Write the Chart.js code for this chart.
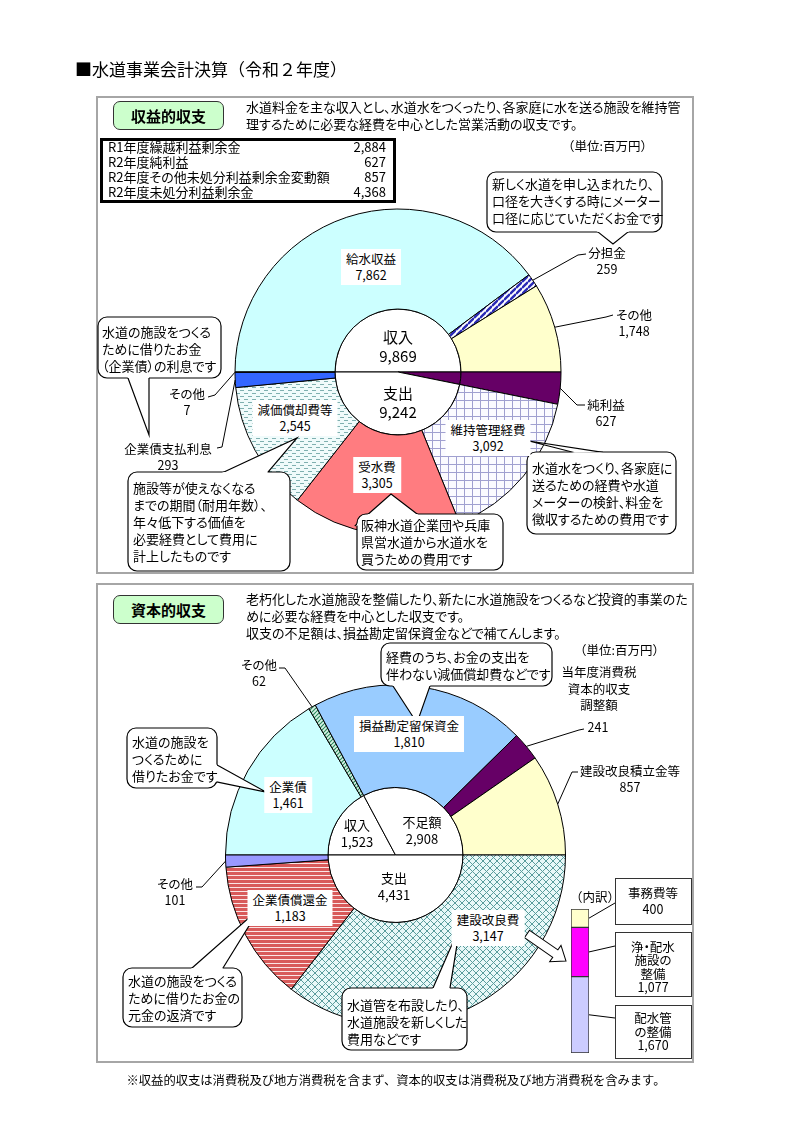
<!DOCTYPE html>
<html lang="ja">
<head>
<meta charset="utf-8">
<title>水道事業会計決算（令和２年度）</title>
<script src="https://cdn.jsdelivr.net/npm/chart.js@4.4.1/dist/chart.umd.min.js"></script>
<style>
  html, body { margin: 0; padding: 0; background: #fff; }
  body { font-family: "Noto Sans CJK JP", "Noto Sans", sans-serif; color: #000; }
  #page { position: relative; width: 793px; height: 1122px; overflow: hidden; }
  .layer { position: absolute; left: 0; top: 0; width: 793px; height: 1122px; }
  .panel { position: absolute; border: 2px solid #a6a6a6; box-sizing: border-box; }
  .tag { position: absolute; background: #ccffcc; border: 1.5px solid #333; border-radius: 7px; box-sizing: border-box;
         font-weight: bold; font-size: 15px; display: flex; align-items: center; justify-content: center; }
  .txt { position: absolute; white-space: nowrap; font-size: 13px; line-height: 17px; font-feature-settings: "palt"; }
  .lbl { position: absolute; transform: translate(-50%, -50%); text-align: center; white-space: nowrap;
         font-size: 12.5px; line-height: 16px; font-feature-settings: "palt"; }
  .lbl.box { background: #fff; padding: 2px 5px; }
  .sbox { position: absolute; border: 1.5px solid #333; box-sizing: border-box; background: #fff; }
  .full { font-feature-settings: normal; }
  #texts { z-index: 5; }
</style>
</head>
<body>
<div id="page">
  <div class="panel" style="left:96px;top:96px;width:598px;height:478px;"></div>
  <div class="panel" style="left:96px;top:583px;width:598px;height:480px;"></div>
  <div class="layer"><canvas id="topChart"></canvas></div>
  <div class="layer"><canvas id="capChart"></canvas></div>
  <div style="position:absolute;left:560px;top:900px;width:60px;height:160px;"><canvas id="barChart"></canvas></div>
  <div class="layer" id="texts"></div>
</div>
<script>
// ---- 収益的収支 ----
const incomeLabels = ['給水収益', '分担金', 'その他'];
const incomeValues = [7862, 259, 1748];
const expenseLabels = ['純利益', '維持管理経費', '受水費', '減価償却費等', '企業債支払利息', 'その他'];
const expenseValues = [627, 3092, 3305, 2545, 293, 7];
const centerLabels = ['収入', '純利益', '支出'];
const centerValues = [9869, 627, 9242];

const summaryItems = ['R1年度繰越利益剰余金', 'R2年度純利益', 'R2年度その他未処分利益剰余金変動額', 'R2年度未処分利益剰余金'];
const summaryValues = [2884, 627, 857, 4368];

// ---- 資本的収支 ----
const capInLabels = ['企業債', 'その他', '損益勘定留保資金', '当年度消費税資本的収支調整額', '建設改良積立金等'];
const capInValues = [1461, 62, 1810, 241, 857];
const capOutLabels = ['建設改良費', '企業債償還金', 'その他'];
const capOutValues = [3147, 1183, 101];
const capCenterLabels = ['収入', '不足額', '支出'];
const capCenterValues = [1523, 2908, 4431];

// 建設改良費の内訳 (下から積み上げ)
const breakdownLabels = ['配水管の整備', '浄・配水施設の整備', '事務費等'];
const breakdownValues = [1670, 1077, 400];

const W = 793, H = 1122;
const fmt = v => v.toLocaleString('en-US');

// 塗りつぶしパターン
function pattern(w, h, bg, paint) {
  const c = document.createElement('canvas');
  c.width = w; c.height = h;
  const g = c.getContext('2d');
  g.fillStyle = bg; g.fillRect(0, 0, w, h);
  paint(g);
  return g.createPattern(c, 'repeat');
}
function diag(g, s, dir) {
  for (let k = -1; k <= 1; k++) {
    g.beginPath();
    if (dir > 0) { g.moveTo(0, k * s); g.lineTo(s, s + k * s); }
    else { g.moveTo(0, s + k * s); g.lineTo(s, k * s); }
    g.stroke();
  }
}
const stripeBlue = pattern(6, 6, '#fff', g => { g.strokeStyle = '#2a2ab5'; g.lineWidth = 2.4; diag(g, 6, -1); });
const gridBlue = pattern(8, 8, '#fbfbff', g => { g.fillStyle = '#a0a0d0'; g.fillRect(0, 0, 8, 1); g.fillRect(0, 0, 1, 8); });
const dashTeal = pattern(8, 6, '#f0fbfb', g => { g.fillStyle = '#7fb0b0'; g.fillRect(0, 0, 4, 1); g.fillRect(4, 3, 4, 1); });
const crossTeal = pattern(7, 7, '#e8f8f8', g => { g.strokeStyle = '#5a9c9c'; g.lineWidth = 1; diag(g, 7, 1); diag(g, 7, -1); });
const stripeRed = pattern(4, 4, '#fbe4e4', g => { g.fillStyle = '#d85a5a'; g.fillRect(0, 0, 4, 3); });
const stripeGreen = pattern(4, 4, '#d8f3e6', g => { g.strokeStyle = '#2f8a5f'; g.lineWidth = 1.2; diag(g, 4, -1); });

// 吹き出し
function drawCallout(ctx, c) {
  const [x1, y1, x2, y2] = c.rect;
  const r = 9;
  const [b1, b2, tip] = c.tail;
  const push = b => {
    const dx = b[0] - tip[0], dy = b[1] - tip[1], d = Math.hypot(dx, dy);
    return [b[0] + dx / d * 3, b[1] + dy / d * 3];
  };
  const p1 = push(b1), p2 = push(b2);
  const tri = () => { ctx.moveTo(p1[0], p1[1]); ctx.lineTo(tip[0], tip[1]); ctx.lineTo(p2[0], p2[1]); ctx.closePath(); };
  const box = () => { ctx.roundRect(x1, y1, x2 - x1, y2 - y1, r); };
  ctx.save();
  ctx.fillStyle = '#fff';
  ctx.beginPath(); box(); ctx.fill();
  ctx.beginPath(); tri(); ctx.fill();
  ctx.strokeStyle = '#000'; ctx.lineWidth = 1.2;
  ctx.save();
  ctx.beginPath(); ctx.rect(0, 0, W, H); tri(); ctx.clip('evenodd');
  ctx.beginPath(); box(); ctx.stroke();
  ctx.restore();
  ctx.save();
  ctx.beginPath(); ctx.rect(0, 0, W, H); box(); ctx.clip('evenodd');
  ctx.beginPath(); ctx.moveTo(p1[0], p1[1]); ctx.lineTo(tip[0], tip[1]); ctx.lineTo(p2[0], p2[1]); ctx.stroke();
  ctx.restore();
  ctx.restore();
}

function annotPlugin(cfg) {
  return {
    id: 'annot',
    afterDatasetsDraw(chart) {
      const ctx = chart.ctx;
      ctx.save();
      ctx.strokeStyle = '#000';
      ctx.lineWidth = 1;
      cfg.leaders.forEach(l => {
        const arc = chart.getDatasetMeta(l.ds).data[l.i];
        const p = arc.getProps(['x', 'y', 'startAngle', 'endAngle', 'outerRadius'], true);
        const a = p.startAngle + (p.endAngle - p.startAngle) * (l.frac === undefined ? 0.5 : l.frac);
        ctx.beginPath();
        ctx.moveTo(l.pts[0][0], l.pts[0][1]);
        l.pts.slice(1).forEach(q => ctx.lineTo(q[0], q[1]));
        ctx.lineTo(p.x + p.outerRadius * Math.cos(a), p.y + p.outerRadius * Math.sin(a));
        ctx.stroke();
      });
      cfg.callouts.forEach(c => drawCallout(ctx, c));
      if (cfg.extra) cfg.extra(ctx);
      ctx.restore();
    }
  };
}

function ringChart(id, cx, cy, rOut, rIn, outerData, outerColors, innerData, innerColors, cfg) {
  return new Chart(document.getElementById(id), {
    type: 'doughnut',
    data: {
      datasets: [
        { data: outerData, backgroundColor: outerColors, borderColor: '#000', borderWidth: 1, weight: rOut - rIn, clip: false },
        { data: innerData, backgroundColor: innerColors, borderColor: '#000', borderWidth: 1, weight: rIn, clip: false }
      ]
    },
    options: {
      responsive: true,
      maintainAspectRatio: false,
      animation: false,
      events: [],
      rotation: -90,
      circumference: 360,
      cutout: 0,
      radius: rOut,
      layout: { padding: { left: cx - rOut - 1, right: W - cx - rOut - 1, top: cy - rOut - 1, bottom: H - cy - rOut - 1 } },
      plugins: { legend: { display: false }, tooltip: { enabled: false } }
    },
    plugins: [annotPlugin(cfg)]
  });
}

// 収益的収支
ringChart('topChart', 398, 372, 163, 63,
  incomeValues.concat(expenseValues),
  ['#ccffff', stripeBlue, '#ffffcc', '#660066', gridBlue, '#ff7c80', dashTeal, '#3366ff', '#ccccff'],
  centerValues, ['#fff', '#660066', '#fff'],
  {
    leaders: [
      { ds: 0, i: 1, pts: [[586, 254], [578, 255]] },
      { ds: 0, i: 2, pts: [[613, 315], [606, 317]] },
      { ds: 0, i: 3, pts: [[585, 405], [577, 405]] },
      { ds: 0, i: 8, pts: [[208, 397], [215, 395]] },
      { ds: 0, i: 7, pts: [[217, 448], [222, 447]] }
    ],
    callouts: [
      { rect: [487, 172, 662, 232], tail: [[598, 232], [628, 232], [613, 244]] },
      { rect: [98, 317, 221, 378], tail: [[128, 378], [149, 378], [149, 435]] },
      { rect: [527, 452, 676, 534], tail: [[572, 452], [600, 452], [529, 441]] },
      { rect: [357, 514, 503, 570], tail: [[357, 524], [417, 514], [391, 494]] },
      { rect: [128, 472, 290, 571], tail: [[224, 472], [268, 472], [297, 438]] }
    ]
  });

// 資本的収支
ringChart('capChart', 395.5, 855, 170, 67.5,
  capInValues.concat(capOutValues),
  ['#ccffff', stripeGreen, '#99ccff', '#660066', '#ffffcc', crossTeal, stripeRed, '#9999ff'],
  capCenterValues, ['#fff', '#fff', '#fff'],
  {
    leaders: [
      { ds: 0, i: 1, pts: [[279, 668], [285, 668]] },
      { ds: 0, i: 3, pts: [[584, 729], [579, 730]] },
      { ds: 0, i: 4, pts: [[578, 772], [572, 772]] },
      { ds: 0, i: 7, pts: [[196, 887], [202, 887]] }
    ],
    callouts: [
      { rect: [381, 643, 552, 686], tail: [[393, 686], [430, 686], [417, 723]] },
      { rect: [127, 728, 217, 788], tail: [[217, 765], [217, 782], [266, 792]] },
      { rect: [123, 968, 242, 1027], tail: [[192, 968], [223, 968], [260, 908]] },
      { rect: [342, 988, 467, 1050], tail: [[433, 988], [450, 988], [460, 926]] }
    ],
    extra(ctx) {
      // 内訳への矢印
      const x0 = 527, y0 = 934, x1 = 566, y1 = 961;
      const ang = Math.atan2(y1 - y0, x1 - x0), len = Math.hypot(x1 - x0, y1 - y0);
      ctx.save();
      ctx.translate(x0, y0); ctx.rotate(ang);
      ctx.beginPath();
      ctx.moveTo(0, -4.5); ctx.lineTo(len - 13, -4.5); ctx.lineTo(len - 13, -10);
      ctx.lineTo(len, 0); ctx.lineTo(len - 13, 10); ctx.lineTo(len - 13, 4.5); ctx.lineTo(0, 4.5); ctx.closePath();
      ctx.fillStyle = '#fff'; ctx.fill();
      ctx.strokeStyle = '#000'; ctx.lineWidth = 1; ctx.stroke();
      ctx.restore();
    }
  });

// 建設改良費の内訳（積み上げ棒）
const breakdownColors = ['#ccccff', '#ff00ff', '#ffffcc'];
const boxLeaderY = [1018, 946, 903];
new Chart(document.getElementById('barChart'), {
  type: 'bar',
  data: {
    labels: ['建設改良費'],
    datasets: breakdownValues.map((v, i) => ({
      label: breakdownLabels[i], data: [v], backgroundColor: breakdownColors[i],
      borderColor: '#333', borderWidth: 1, borderSkipped: false,
      barPercentage: 1, categoryPercentage: 1
    }))
  },
  options: {
    responsive: true, maintainAspectRatio: false, animation: false, events: [],
    layout: { padding: { left: 11, right: 31, top: 9, bottom: 7 } },
    scales: {
      x: { stacked: true, display: false },
      y: { stacked: true, display: false, min: 0, max: breakdownValues.reduce((a, b) => a + b, 0) }
    },
    plugins: { legend: { display: false }, tooltip: { enabled: false } }
  },
  plugins: [{
    id: 'boxLeaders',
    afterDatasetsDraw(chart) {
      const ctx = chart.ctx;
      ctx.save();
      ctx.strokeStyle = '#000'; ctx.lineWidth = 1;
      breakdownValues.forEach((v, i) => {
        const bar = chart.getDatasetMeta(i).data[0];
        const p = bar.getProps(['x', 'y', 'base', 'width'], true);
        ctx.beginPath();
        ctx.moveTo(p.x + p.width / 2, (p.y + p.base) / 2);
        ctx.lineTo(55, boxLeaderY[i] - 900);
        ctx.stroke();
      });
      ctx.restore();
    }
  }]
});

// ---- テキスト ----
const texts = document.getElementById('texts');
function add(html, style, cls) {
  const d = document.createElement('div');
  d.className = cls;
  d.innerHTML = html;
  d.setAttribute('style', style);
  texts.appendChild(d);
  return d;
}
function lbl(name, value, x, y, boxed, size) {
  const s = size ? `font-size:${size}px;line-height:${size + 4}px;` : '';
  add(`${name}<br>${fmt(value)}`, `left:${x}px;top:${y}px;${s}`, boxed ? 'lbl box' : 'lbl');
}
function lines(arr, x, y, lh) {
  add(arr.join('<br>'), `left:${x}px;top:${y}px;line-height:${lh || 17}px;`, 'txt');
}

add('■水道事業会計決算（令和２年度）', 'left:75px;top:57px;font-size:17px;line-height:24px;', 'txt full');

// 収益的収支 見出し
add('収益的収支', 'left:113px;top:101px;width:111px;height:29px;', 'tag');
lines(['水道料金を主な収入とし、水道水をつくったり、各家庭に水を送る施設を維持管',
       '理するために必要な経費を中心とした営業活動の収支です。'], 246, 98);
add('', 'left:100px;top:138px;width:296px;height:65px;border:3px solid #000;', 'sbox');
summaryItems.forEach((s, i) => {
  add(s, `left:108px;top:${139 + i * 15}px;font-size:13px;line-height:16px;`, 'txt');
  add(fmt(summaryValues[i]), `left:330px;width:56px;text-align:right;top:${139 + i * 15}px;font-size:13px;line-height:16px;`, 'txt');
});
add('（単位:百万円）', 'left:562px;top:137px;font-size:12.5px;', 'txt full');

lines(['新しく水道を申し込まれたり、', '口径を大きくする時にメーター', '口径に応じていただくお金です'], 492, 175);
lines(['水道の施設をつくる', 'ために借りたお金', '（企業債）の利息です'], 102, 323);
lines(['水道水をつくり、各家庭に', '送るための経費や水道', 'メーターの検針、料金を', '徴収するための費用です'], 532, 459);
lines(['阪神水道企業団や兵庫', '県営水道から水道水を', '買うための費用です'], 361, 516);
lines(['施設等が使えなくなる', 'までの期間（耐用年数）、', '年々低下する価値を', '必要経費として費用に', '計上したものです'], 133, 479);

lbl(incomeLabels[0], incomeValues[0], 371, 267, true);
lbl(incomeLabels[1], incomeValues[1], 607, 261, false);
lbl(incomeLabels[2], incomeValues[2], 634, 323, false);
lbl(expenseLabels[0], expenseValues[0], 606, 413, false);
lbl(expenseLabels[1], expenseValues[1], 488, 438, true);
lbl(expenseLabels[2], expenseValues[2], 377, 475, true);
lbl(expenseLabels[3], expenseValues[3], 295, 418, true);
lbl(expenseLabels[4], expenseValues[4], 168, 457, false);
lbl(expenseLabels[5], expenseValues[5], 187, 402, false);
lbl(centerLabels[0], centerValues[0], 398, 346, false, 15);
lbl(centerLabels[2], centerValues[2], 398, 402, false, 15);

// 資本的収支 見出し
add('資本的収支', 'left:113px;top:595px;width:111px;height:29px;', 'tag');
lines(['老朽化した水道施設を整備したり、新たに水道施設をつくるなど投資的事業のた',
       'めに必要な経費を中心とした収支です。',
       '収支の不足額は、損益勘定留保資金などで補てんします。'], 246, 590);
add('（単位:百万円）', 'left:574px;top:641px;font-size:12.5px;', 'txt full');

lines(['経費のうち、お金の支出を', '伴わない減価償却費などです'], 386, 648);
lines(['水道の施設を', 'つくるために', '借りたお金です'], 132, 733);
lines(['水道の施設をつくる', 'ために借りたお金の', '元金の返済です'], 128, 972);
lines(['水道管を布設したり、', '水道施設を新しくした', '費用などです'], 347, 996);

lbl(capInLabels[0], capInValues[0], 288, 795, true);
lbl(capInLabels[1], capInValues[1], 259, 673, false);
lbl(capInLabels[2], capInValues[2], 409, 734, true);
add('当年度消費税<br>資本的収支<br>調整額', 'left:599px;top:689px;line-height:16.5px;', 'lbl');
add(fmt(capInValues[3]), 'left:598px;top:727px;', 'lbl');
lbl(capInLabels[4], capInValues[4], 630, 779, false);
lbl(capOutLabels[0], capOutValues[0], 488, 928, true);
lbl(capOutLabels[1], capOutValues[1], 290, 908, true);
lbl(capOutLabels[2], capOutValues[2], 175, 892, false);
lbl(capCenterLabels[0], capCenterValues[0], 357, 833, false, 13);
lbl(capCenterLabels[1], capCenterValues[1], 422, 830, false, 13);
lbl(capCenterLabels[2], capCenterValues[2], 394, 886, false, 13);

// 内訳
add('（内訳）', 'left:595px;top:897px;font-feature-settings:normal;', 'lbl');
add('', 'left:615px;top:878px;width:77px;height:47px;', 'sbox');
add('', 'left:615px;top:932px;width:77px;height:65px;', 'sbox');
add('', 'left:615px;top:1005px;width:77px;height:54px;', 'sbox');
add(`事務費等<br>${fmt(breakdownValues[2])}`, 'left:653px;top:901px;', 'lbl');
add(`浄・配水<br>施設の<br>整備<br>${fmt(breakdownValues[1])}`, 'left:653px;top:967px;line-height:13.3px;', 'lbl');
add(`配水管<br>の整備<br>${fmt(breakdownValues[0])}`, 'left:653px;top:1032px;line-height:13.7px;', 'lbl');

add('※収益的収支は消費税及び地方消費税を含まず、資本的収支は消費税及び地方消費税を含みます。',
    'left:396px;top:1080px;font-size:12.3px;font-feature-settings:normal;', 'lbl');
</script>
</body>
</html>
